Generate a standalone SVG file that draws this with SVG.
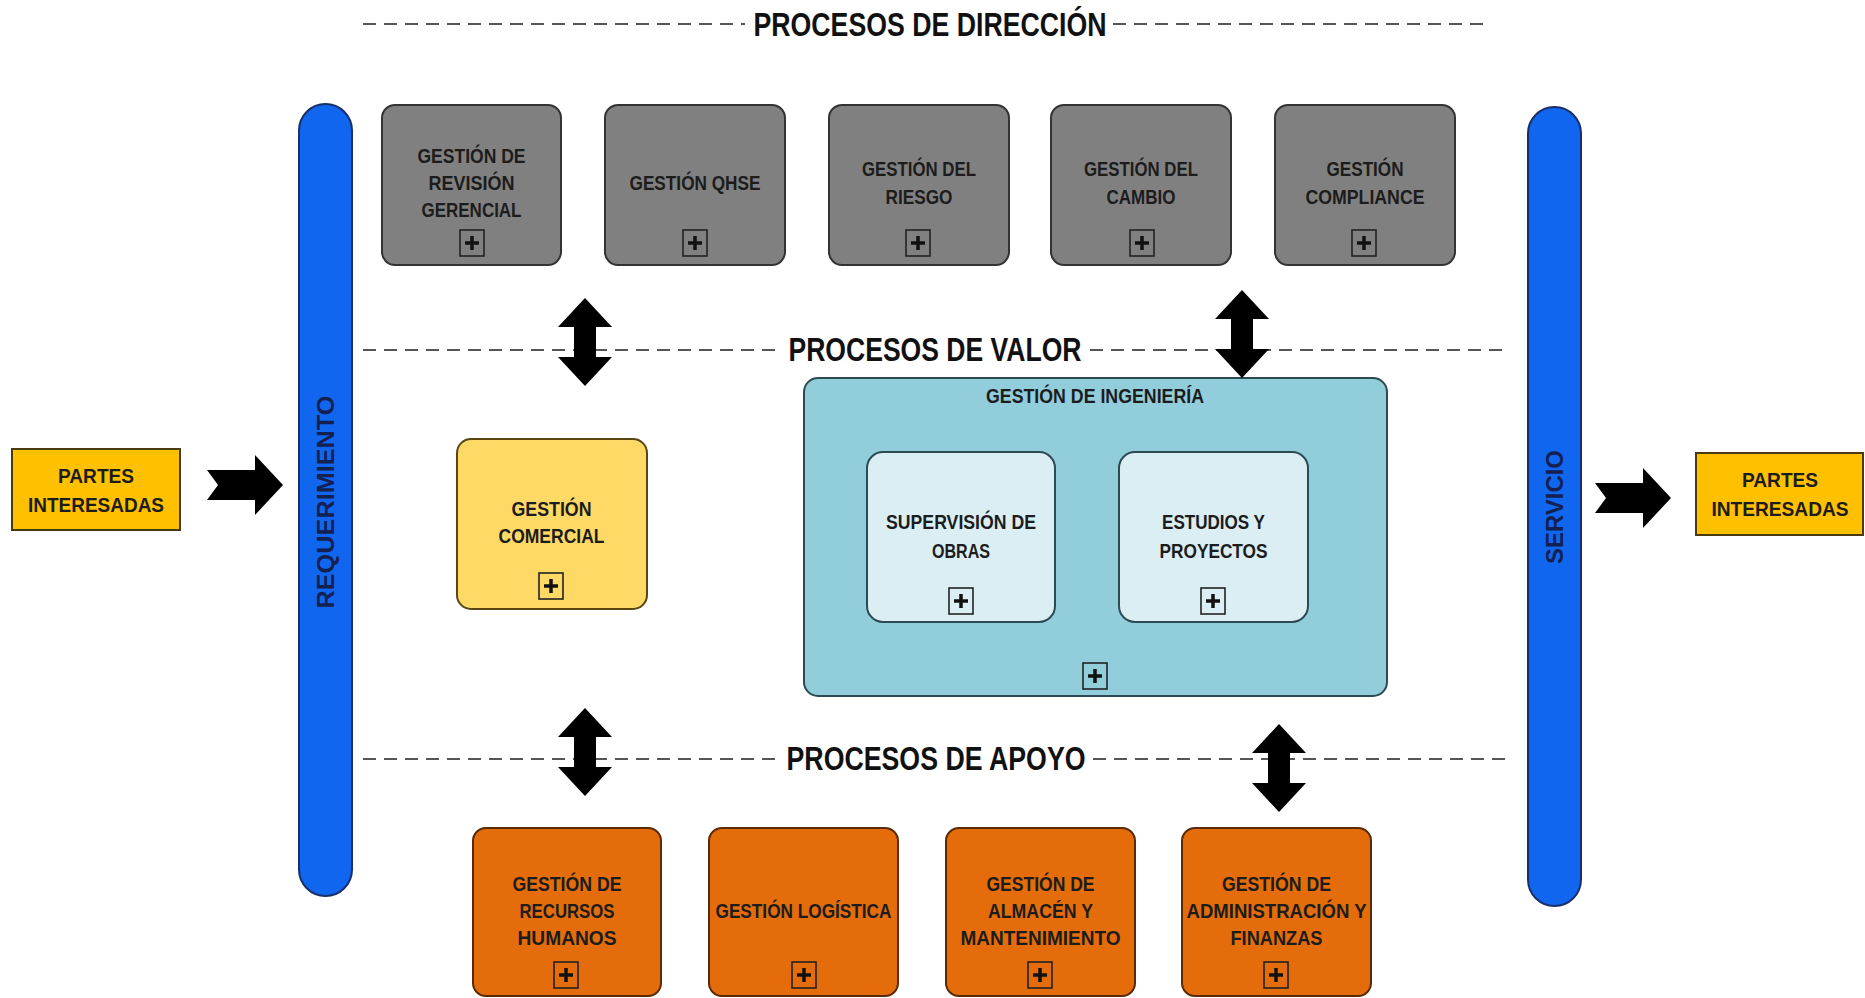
<svg xmlns="http://www.w3.org/2000/svg" xmlns:xlink="http://www.w3.org/1999/xlink" width="1865" height="998" viewBox="0 0 1865 998">
<style>
.t{font-family:"Liberation Sans",Arial,sans-serif;font-weight:bold;font-size:20.5px;fill:#1c1c1c;text-anchor:middle}
.h{font-family:"Liberation Sans",Arial,sans-serif;font-weight:bold;font-size:33px;fill:#111;text-anchor:middle}
.v{font-family:"Liberation Sans",Arial,sans-serif;font-weight:bold;font-size:24px;fill:#142050;text-anchor:middle}
.dash{stroke:#555;stroke-width:2.2;stroke-dasharray:13 8;fill:none}
.gray{fill:#808080;stroke:#333;stroke-width:2}
.orange{fill:#E46C0A;stroke:#5a2a05;stroke-width:2}
.yel{fill:#FFC000;stroke:#4a3a10;stroke-width:2}
.com{fill:#FFD966;stroke:#5a4515;stroke-width:2}
.ing{fill:#92CDDC;stroke:#2c4a52;stroke-width:2}
.inn{fill:#DBEEF4;stroke:#2c4a52;stroke-width:2}
.bar{fill:#1166F0;stroke:#1a2f6a;stroke-width:2}
.blk{fill:#000}
</style>
<defs>
<g id="plus">
<rect x="-12" y="-13" width="24" height="26" fill="none" stroke="#222" stroke-width="1.6"/>
<path d="M-7,0H7M0,-7V7" stroke="#111" stroke-width="3.5" fill="none"/>
</g>
<path id="darr" d="M0,-44 L27,-15 L11,-15 L11,15 L27,15 L0,44 L-27,15 L-11,15 L-11,-15 L-27,-15 Z"/>
<path id="barr" d="M0,15 L48,15 L48,0 L76,30 L48,60 L48,45 L0,45 L11,30 Z"/>
</defs>

<g id="section-lines">
<line class="dash" x1="363" y1="24" x2="745" y2="24"/>
<line class="dash" x1="1113" y1="24" x2="1487" y2="24"/>
<text class="h" x="930" y="36" textLength="353" lengthAdjust="spacingAndGlyphs">PROCESOS DE DIRECCIÓN</text>
<line class="dash" x1="363" y1="350" x2="781" y2="350"/>
<line class="dash" x1="1090" y1="350" x2="1508" y2="350"/>
<text class="h" x="935" y="361" textLength="293" lengthAdjust="spacingAndGlyphs">PROCESOS DE VALOR</text>
<line class="dash" x1="363" y1="759" x2="779" y2="759"/>
<line class="dash" x1="1093" y1="759" x2="1508" y2="759"/>
<text class="h" x="936" y="770" textLength="299" lengthAdjust="spacingAndGlyphs">PROCESOS DE APOYO</text>
</g>

<g id="requerimiento">
<rect class="bar" x="299" y="104" width="53" height="792" rx="26.5"/>
<text class="v" transform="translate(334,502) rotate(-90)" x="0" y="0" textLength="213" lengthAdjust="spacingAndGlyphs">REQUERIMIENTO</text>
</g>
<g id="servicio">
<rect class="bar" x="1528" y="107" width="53" height="799" rx="26.5"/>
<text class="v" transform="translate(1563,507) rotate(-90)" x="0" y="0" textLength="114" lengthAdjust="spacingAndGlyphs">SERVICIO</text>
</g>

<g id="partes-izq">
<rect class="yel" x="12" y="449" width="168" height="81"/>
<text class="t" x="96" y="483" textLength="76" lengthAdjust="spacingAndGlyphs">PARTES</text>
<text class="t" x="96" y="512" textLength="136" lengthAdjust="spacingAndGlyphs">INTERESADAS</text>
</g>
<g id="partes-der">
<rect class="yel" x="1696" y="453" width="167" height="82"/>
<text class="t" x="1780" y="487" textLength="76" lengthAdjust="spacingAndGlyphs">PARTES</text>
<text class="t" x="1780" y="516" textLength="137" lengthAdjust="spacingAndGlyphs">INTERESADAS</text>
</g>

<g id="g-revision">
<rect class="gray" x="382" y="105" width="179" height="160" rx="13"/>
<text class="t" x="471.5" y="163" textLength="108" lengthAdjust="spacingAndGlyphs">GESTIÓN DE</text>
<text class="t" x="471.5" y="190" textLength="86" lengthAdjust="spacingAndGlyphs">REVISIÓN</text>
<text class="t" x="471.5" y="217" textLength="100" lengthAdjust="spacingAndGlyphs">GERENCIAL</text>
<use xlink:href="#plus" x="472" y="243"/>
</g>
<g id="g-qhse">
<rect class="gray" x="605" y="105" width="180" height="160" rx="13"/>
<text class="t" x="695" y="190" textLength="131" lengthAdjust="spacingAndGlyphs">GESTIÓN QHSE</text>
<use xlink:href="#plus" x="695" y="243"/>
</g>
<g id="g-riesgo">
<rect class="gray" x="829" y="105" width="180" height="160" rx="13"/>
<text class="t" x="919" y="176" textLength="114" lengthAdjust="spacingAndGlyphs">GESTIÓN DEL</text>
<text class="t" x="919" y="204" textLength="67" lengthAdjust="spacingAndGlyphs">RIESGO</text>
<use xlink:href="#plus" x="918" y="243"/>
</g>
<g id="g-cambio">
<rect class="gray" x="1051" y="105" width="180" height="160" rx="13"/>
<text class="t" x="1141" y="176" textLength="114" lengthAdjust="spacingAndGlyphs">GESTIÓN DEL</text>
<text class="t" x="1141" y="204" textLength="69" lengthAdjust="spacingAndGlyphs">CAMBIO</text>
<use xlink:href="#plus" x="1142" y="243"/>
</g>
<g id="g-compliance">
<rect class="gray" x="1275" y="105" width="180" height="160" rx="13"/>
<text class="t" x="1365" y="176" textLength="77" lengthAdjust="spacingAndGlyphs">GESTIÓN</text>
<text class="t" x="1365" y="204" textLength="119" lengthAdjust="spacingAndGlyphs">COMPLIANCE</text>
<use xlink:href="#plus" x="1364" y="243"/>
</g>

<g id="g-comercial">
<rect class="com" x="457" y="439" width="190" height="170" rx="14"/>
<text class="t" x="551.5" y="516" textLength="80" lengthAdjust="spacingAndGlyphs">GESTIÓN</text>
<text class="t" x="551.5" y="543" textLength="106" lengthAdjust="spacingAndGlyphs">COMERCIAL</text>
<use xlink:href="#plus" x="551" y="586"/>
</g>

<g id="g-ingenieria">
<rect class="ing" x="804" y="378" width="583" height="318" rx="14"/>
<text class="t" x="1095" y="403" textLength="218" lengthAdjust="spacingAndGlyphs">GESTIÓN DE INGENIERÍA</text>
<use xlink:href="#plus" x="1095" y="676"/>
</g>
<g id="g-supervision">
<rect class="inn" x="867" y="452" width="188" height="170" rx="16"/>
<text class="t" x="961" y="529" textLength="150" lengthAdjust="spacingAndGlyphs">SUPERVISIÓN DE</text>
<text class="t" x="961" y="558" textLength="58" lengthAdjust="spacingAndGlyphs">OBRAS</text>
<use xlink:href="#plus" x="961" y="601"/>
</g>
<g id="g-estudios">
<rect class="inn" x="1119" y="452" width="189" height="170" rx="16"/>
<text class="t" x="1213.5" y="529" textLength="103" lengthAdjust="spacingAndGlyphs">ESTUDIOS Y</text>
<text class="t" x="1213.5" y="558" textLength="108" lengthAdjust="spacingAndGlyphs">PROYECTOS</text>
<use xlink:href="#plus" x="1213" y="601"/>
</g>

<g id="g-rrhh">
<rect class="orange" x="473" y="828" width="188" height="168" rx="13"/>
<text class="t" x="567" y="891" textLength="109" lengthAdjust="spacingAndGlyphs">GESTIÓN DE</text>
<text class="t" x="567" y="918" textLength="95" lengthAdjust="spacingAndGlyphs">RECURSOS</text>
<text class="t" x="567" y="945" textLength="99" lengthAdjust="spacingAndGlyphs">HUMANOS</text>
<use xlink:href="#plus" x="566" y="975"/>
</g>
<g id="g-logistica">
<rect class="orange" x="709" y="828" width="189" height="168" rx="13"/>
<text class="t" x="803.5" y="918" textLength="176" lengthAdjust="spacingAndGlyphs">GESTIÓN LOGÍSTICA</text>
<use xlink:href="#plus" x="804" y="975"/>
</g>
<g id="g-almacen">
<rect class="orange" x="946" y="828" width="189" height="168" rx="13"/>
<text class="t" x="1040.5" y="891" textLength="108" lengthAdjust="spacingAndGlyphs">GESTIÓN DE</text>
<text class="t" x="1040.5" y="918" textLength="105" lengthAdjust="spacingAndGlyphs">ALMACÉN Y</text>
<text class="t" x="1040.5" y="945" textLength="160" lengthAdjust="spacingAndGlyphs">MANTENIMIENTO</text>
<use xlink:href="#plus" x="1040" y="975"/>
</g>
<g id="g-administracion">
<rect class="orange" x="1182" y="828" width="189" height="168" rx="13"/>
<text class="t" x="1276.5" y="891" textLength="109" lengthAdjust="spacingAndGlyphs">GESTIÓN DE</text>
<text class="t" x="1276.5" y="918" textLength="180" lengthAdjust="spacingAndGlyphs">ADMINISTRACIÓN Y</text>
<text class="t" x="1276.5" y="945" textLength="92" lengthAdjust="spacingAndGlyphs">FINANZAS</text>
<use xlink:href="#plus" x="1276" y="975"/>
</g>

<g id="connectors" class="blk">
<use xlink:href="#barr" x="207" y="455"/>
<use xlink:href="#barr" x="1595" y="468"/>
<use xlink:href="#darr" x="585" y="342"/>
<use xlink:href="#darr" x="1242" y="334"/>
<use xlink:href="#darr" x="585" y="752"/>
<use xlink:href="#darr" x="1279" y="768"/>
</g>
</svg>
